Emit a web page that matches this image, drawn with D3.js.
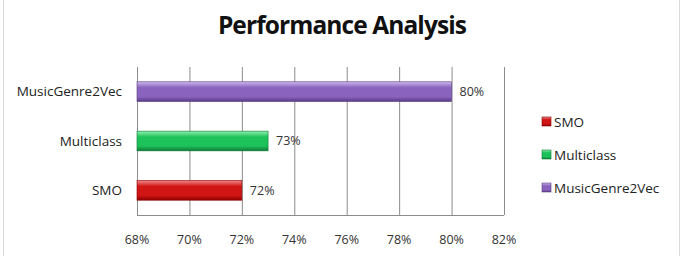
<!DOCTYPE html>
<html>
<head>
<meta charset="utf-8">
<script src="https://cdn.jsdelivr.net/npm/d3@7"></script>
<style>
  body { margin: 0; background: #fff; }
  text { font-family: "Open Sans", "DejaVu Sans", sans-serif; }
</style>
</head>
<body>
<div id="chart"></div>
<script>
// data
var categories = ["SMO", "Multiclass", "MusicGenre2Vec"];
var values = [72, 73, 80];
var xTicks = [68, 70, 72, 74, 76, 78, 80, 82];
var seriesColors = [
    {base: "#d11515", light: "#f08a8a", dark: "#8e0000"},
    {base: "#1ec25a", light: "#8ff0b0", dark: "#0c7a34"},
    {base: "#8a63bf", light: "#cdb6ec", dark: "#5a3c86"}
];

var W = 687, H = 256,
    margin = {top: 67, left: 137, right: 183, bottom: 41},
    width = W - margin.left - margin.right,
    height = H - margin.top - margin.bottom;

var svg = d3.select("#chart").append("svg")
    .attr("width", W)
    .attr("height", H);

// outer frame
svg.append("rect")
    .attr("x", 3.5).attr("y", -2)
    .attr("width", 676).attr("height", H + 4)
    .attr("fill", "none")
    .attr("stroke", "#d9d9d9");

// gradients for the cylinder look
var defs = svg.append("defs");
seriesColors.forEach(function(c, i) {
    var grad = defs.append("linearGradient")
        .attr("id", "grad" + i)
        .attr("x1", 0).attr("y1", 0).attr("x2", 0).attr("y2", 1);
    grad.append("stop").attr("offset", "0%").attr("stop-color", c.light);
    grad.append("stop").attr("offset", "30%").attr("stop-color", c.base);
    grad.append("stop").attr("offset", "75%").attr("stop-color", c.base);
    grad.append("stop").attr("offset", "100%").attr("stop-color", c.dark);
});

svg.append("text")
    .attr("x", 342).attr("y", 34)
    .attr("text-anchor", "middle")
    .style("font-family", "'Open Sans', sans-serif")
    .style("font-weight", "bold")
    .style("font-size", "24.5px")
    .style("letter-spacing", "-0.9px")
    .attr("fill", "#111")
    .text("Performance Analysis");

var xScale = d3.scaleLinear().domain([68, 82]).range([0, width]);
var yScale = d3.scaleBand()
    .domain(categories.slice().reverse())
    .range([0, height])
    .paddingInner(0.6)
    .paddingOuter(0.3);

var g = svg.append("g")
    .attr("transform", "translate(" + margin.left + "," + margin.top + ")");

// vertical grid
g.append("g")
    .attr("class", "x grid")
    .selectAll("line")
    .data(xTicks)
    .enter().append("line")
    .attr("x1", function(d) { return xScale(d) + 0.5; })
    .attr("x2", function(d) { return xScale(d) + 0.5; })
    .attr("y1", 0).attr("y2", height)
    .attr("stroke", "#8c8c8c");

// axes lines
g.append("line")
    .attr("x1", 0.5).attr("x2", 0.5).attr("y1", 0).attr("y2", height)
    .attr("stroke", "#8c8c8c");
g.append("line")
    .attr("x1", 0).attr("x2", width).attr("y1", height + 0.5).attr("y2", height + 0.5)
    .attr("stroke", "#8c8c8c");

// x tick labels
g.selectAll(".x.label")
    .data(xTicks)
    .enter().append("text")
    .attr("class", "x label")
    .attr("x", function(d) { return xScale(d); })
    .attr("y", height + 29)
    .attr("text-anchor", "middle")
    .style("font-size", "12.5px")
    .attr("fill", "#333")
    .text(function(d) { return d + "%"; });

// category labels
g.selectAll(".y.label")
    .data(categories)
    .enter().append("text")
    .attr("class", "y label")
    .attr("x", -15)
    .attr("y", function(d) { return yScale(d) + yScale.bandwidth() / 2; })
    .attr("dy", "0.35em")
    .attr("text-anchor", "end")
    .style("font-size", "13.5px")
    .attr("fill", "#222")
    .text(function(d) { return d; });

// bars
g.selectAll(".bar")
    .data(categories)
    .enter().append("rect")
    .attr("class", "bar")
    .attr("x", 0)
    .attr("y", function(d) { return yScale(d); })
    .attr("width", function(d, i) { return xScale(values[i]); })
    .attr("height", yScale.bandwidth())
    .attr("fill", function(d, i) { return "url(#grad" + i + ")"; })
    .attr("stroke", function(d, i) { return seriesColors[i].dark; })
    .attr("stroke-width", 0.6);

// value labels
g.selectAll(".val")
    .data(categories)
    .enter().append("text")
    .attr("class", "val")
    .attr("x", function(d, i) { return xScale(values[i]) + 8; })
    .attr("y", function(d) { return yScale(d) + yScale.bandwidth() / 2; })
    .attr("dy", "0.35em")
    .style("font-size", "12.5px")
    .attr("fill", "#333")
    .text(function(d, i) { return values[i] + "%"; });

// legend
var legend = svg.append("g")
    .attr("transform", "translate(542,122)");
var item = legend.selectAll(".item")
    .data(categories)
    .enter().append("g")
    .attr("class", "item")
    .attr("transform", function(d, i) { return "translate(0," + (i * 33) + ")"; });
item.append("rect")
    .attr("x", 0).attr("y", -5)
    .attr("width", 9).attr("height", 9)
    .attr("fill", function(d, i) { return "url(#grad" + i + ")"; })
    .attr("stroke", function(d, i) { return seriesColors[i].dark; })
    .attr("stroke-width", 0.6);
item.append("text")
    .attr("x", 12)
    .attr("y", 0)
    .attr("dy", "0.35em")
    .style("font-size", "13.5px")
    .attr("fill", "#222")
    .text(function(d) { return d; });
</script>
</body>
</html>
